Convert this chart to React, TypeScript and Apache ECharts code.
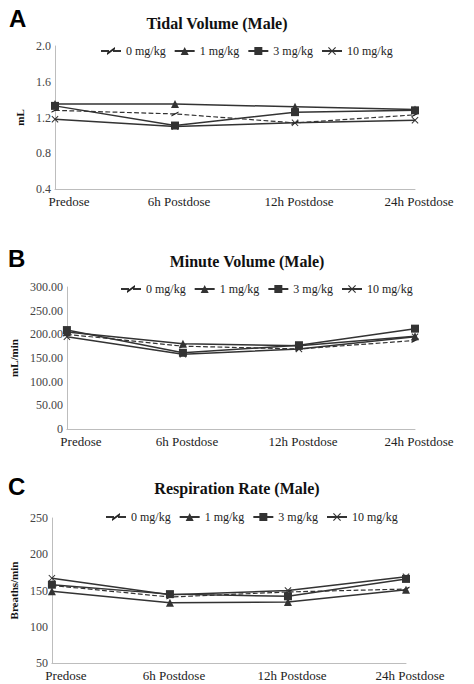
import React, { useEffect, useRef } from 'react';
import * as echarts from 'echarts';

const timepoints = ['Predose', '6h Postdose', '12h Postdose', '24h Postdose'];
const doseNames = ['0 mg/kg', '1 mg/kg', '3 mg/kg', '10 mg/kg'];

// Tidal volume (mL)
const tidal0 = [1.28, 1.24, 1.14, 1.23];
const tidal1 = [1.35, 1.35, 1.32, 1.29];
const tidal3 = [1.33, 1.11, 1.26, 1.28];
const tidal10 = [1.18, 1.10, 1.14, 1.17];

// Minute volume (mL/min)
const minute0 = [200, 175, 169, 187];
const minute1 = [205, 180, 176, 196];
const minute3 = [209, 161, 177, 212];
const minute10 = [195, 158, 169, 195];

// Respiration rate (breaths/min)
const resp0 = [157, 141, 148, 152];
const resp1 = [149, 133, 134, 151];
const resp3 = [158, 145, 142, 166];
const resp10 = [167, 144, 150, 169];

const SERIF = 'Liberation Serif';
const SANS = 'Liberation Sans';
const LINE = '#333333';

const CROSS = 'path://M0,1L1,0L5,4L9,0L10,1L6,5L10,9L9,10L5,6L1,10L0,9L4,5Z';
const DASH = 'path://M0,4L8,0L8,1.6L0,5.6Z';

const makeSeries = (idx: number, values: number[][]) =>
    values.map((vals, i) => {
        const base: any = {
            name: doseNames[i],
            type: 'line',
            xAxisIndex: idx,
            yAxisIndex: idx,
            data: vals,
            lineStyle: { color: LINE, width: 1.5, type: i === 0 ? 'dashed' : 'solid' },
            itemStyle: { color: i === 0 ? '#222' : LINE },
            emphasis: { disabled: true },
        };
        if (i === 0) {
            base.symbol = DASH;
            base.symbolSize = [7, 5];
            base.lineStyle.width = 1.2;
        } else if (i === 1) {
            base.symbol = 'triangle';
            base.symbolSize = 8;
        } else if (i === 2) {
            base.symbol = 'rect';
            base.symbolSize = 8;
        } else {
            base.symbol = CROSS;
            base.symbolSize = 7;
        }
        return base;
    });

const App: React.FC = () => {
    const chartRef = useRef<HTMLDivElement>(null);

    useEffect(() => {
        if (!chartRef.current) return;
        const chart = echarts.init(chartRef.current, undefined, { renderer: 'svg' });

        const grids = [
            { left: 55, right: 59, top: 46, height: 143 },
            { left: 63, right: 59, top: 287, height: 142 },
            { left: 46, right: 68, top: 518, height: 145 },
        ];

        // Excel nudges the first label off the value axis; the rest sit slightly right of the tick
        const xAxes = grids.map((_, i) => ({
            type: 'category' as const,
            gridIndex: i,
            data: timepoints,
            boundaryGap: false,
            axisLine: { lineStyle: { color: '#bdbdbd', width: 1 } },
            axisTick: { show: false },
            axisLabel: {
                interval: 0,
                fontFamily: SERIF,
                fontSize: 13,
                color: '#222',
                margin: 6,
                formatter: (v: string, idx: number) => (idx === 0 ? `{p|${v}}` : `{q|${v}}`),
                rich: {
                    p: { fontFamily: SERIF, fontSize: 13, color: '#222', padding: [0, 0, 0, 28] },
                    q: { fontFamily: SERIF, fontSize: 13, color: '#222', padding: [0, 0, 0, 8] },
                },
            },
        }));

        const yCommon = {
            type: 'value' as const,
            axisLine: { show: true, lineStyle: { color: '#bdbdbd', width: 1 } },
            axisTick: { show: false },
            splitLine: { show: false },
            nameLocation: 'middle' as const,
            nameTextStyle: { fontFamily: SERIF, fontSize: 11, fontWeight: 'bold' as const, color: '#111' },
            axisLabel: { fontFamily: SERIF, fontSize: 12, color: '#444', margin: 4 },
        };

        const yAxes = [
            {
                ...yCommon, gridIndex: 0, min: 0.4, max: 2.0, interval: 0.4, name: 'mL', nameGap: 19,
                axisLabel: { ...yCommon.axisLabel, formatter: (v: number) => v.toFixed(1) },
            },
            {
                ...yCommon, gridIndex: 1, min: 0, max: 300, interval: 50, name: 'mL/min', nameGap: 28,
                axisLabel: { ...yCommon.axisLabel, formatter: (v: number) => (v === 0 ? '0' : v.toFixed(2)) },
            },
            {
                ...yCommon, gridIndex: 2, min: 50, max: 250, interval: 50, name: 'Breaths/min', nameGap: 13,
            },
        ];

        const legendBase = {
            data: doseNames,
            itemWidth: 20,
            itemHeight: 10,
            itemGap: 8,
            textStyle: { fontFamily: SERIF, fontSize: 12, color: '#222' },
            selectedMode: false,
        };

        const titles = [
            { text: 'Tidal Volume (Male)', x: 217, y: 23 },
            { text: 'Minute Volume (Male)', x: 247, y: 261 },
            { text: 'Respiration Rate (Male)', x: 237, y: 488 },
        ];
        const letters = [
            { text: 'A', x: 9, y: 18 },
            { text: 'B', x: 8, y: 258 },
            { text: 'C', x: 8, y: 486 },
        ];

        const option: echarts.EChartsOption = {
            animation: false,
            backgroundColor: '#fff',
            grid: grids,
            xAxis: xAxes,
            yAxis: yAxes,
            legend: [
                { ...legendBase, left: 95, top: 40 },
                { ...legendBase, left: 115, top: 278 },
                { ...legendBase, left: 100, top: 506 },
            ],
            graphic: [
                ...titles.map((t) => ({
                    type: 'text' as const,
                    x: t.x,
                    y: t.y,
                    style: {
                        text: t.text,
                        fontFamily: SERIF,
                        fontSize: 16,
                        fontWeight: 'bold' as const,
                        fill: '#111',
                        align: 'center' as const,
                        verticalAlign: 'middle' as const,
                    },
                })),
                ...letters.map((l) => ({
                    type: 'text' as const,
                    x: l.x,
                    y: l.y,
                    style: {
                        text: l.text,
                        fontFamily: SANS,
                        fontSize: 24,
                        fontWeight: 'bold' as const,
                        fill: '#000',
                        align: 'left' as const,
                        verticalAlign: 'middle' as const,
                    },
                })),
            ],
            series: [
                ...makeSeries(0, [tidal0, tidal1, tidal3, tidal10]),
                ...makeSeries(1, [minute0, minute1, minute3, minute10]),
                ...makeSeries(2, [resp0, resp1, resp3, resp10]),
            ],
        };

        chart.setOption(option);

        return () => {
            chart.dispose();
        };
    }, []);

    return (
        <div
            ref={chartRef}
            style={{ position: 'absolute', left: 0, top: 0, width: 474, height: 684 }}
        />
    );
};

export default App;
